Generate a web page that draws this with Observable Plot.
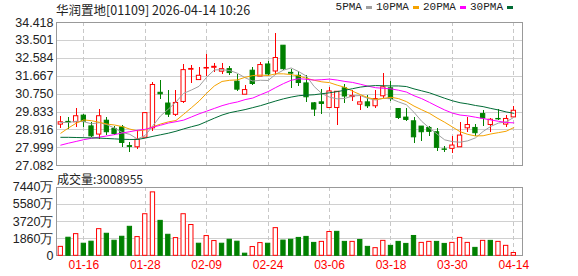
<!DOCTYPE html>
<html>
<head>
<meta charset="utf-8">
<script src="https://cdn.jsdelivr.net/npm/d3@7"></script>
<script src="https://cdn.jsdelivr.net/npm/@observablehq/plot@0.6"></script>
<style>
  html, body { margin: 0; padding: 0; background: #fff; }
  #wrap { position: relative; width: 578px; height: 276px; overflow: hidden; background: #fff; }
  #wrap svg { position: absolute; left: 0; }
  .title { position: absolute; left: 56px; top: 0px; font: 12.5px "Noto Sans CJK SC", sans-serif; color: #222; white-space: nowrap; }
  .vollabel { position: absolute; left: 57px; top: 170px; font: 12px "Noto Sans CJK SC", sans-serif; color: #222; white-space: nowrap; }
  .legend { position: absolute; right: 65px; top: 1px; display: flex; gap: 4px; font: 11px "Liberation Mono", monospace; color: #222; white-space: nowrap; }
  .legend .item { display: flex; align-items: center; gap: 4px; }
  .legend .sw { display: inline-block; width: 6px; height: 3px; }
</style>
</head>
<body>
<div id="wrap"></div>
<script>
// ---- data ----
const opens  = [29.19,29.33,29.31,29.65,29.10,28.68,29.39,28.97,29.05,28.09,28.03,28.52,29.00,30.82,30.27,29.69,30.35,32.00,31.47,32.06,32.10,31.90,32.03,31.39,30.72,31.95,31.65,32.27,31.91,33.23,31.84,31.69,31.30,30.28,30.33,30.04,30.04,31.05,30.60,30.21,30.33,30.13,30.64,31.05,29.99,29.55,29.36,29.09,29.02,28.80,27.92,27.95,28.03,29.00,29.02,29.73,29.17,29.48,29.19,29.56];
const highs  = [29.60,29.55,30.04,29.73,29.31,29.94,29.53,29.09,29.17,28.29,28.88,29.80,31.34,31.47,30.96,30.96,32.29,32.24,32.12,32.77,32.34,32.34,32.15,31.78,31.18,32.12,32.37,32.43,33.86,33.23,32.00,31.91,31.69,30.30,31.01,31.10,30.87,31.22,30.96,30.62,30.70,30.96,31.81,31.42,30.00,29.99,29.56,29.09,29.09,28.97,28.08,28.58,29.31,29.56,29.19,29.90,29.51,29.94,29.65,30.11];
const lows   = [28.97,28.96,29.02,29.05,28.51,28.41,28.63,28.63,28.03,27.78,27.93,28.51,28.85,30.50,29.57,29.62,30.25,31.32,31.45,31.64,31.86,31.74,31.69,30.88,30.72,31.18,31.64,31.64,31.69,31.95,31.05,31.13,30.33,29.60,29.73,29.99,29.17,30.25,30.37,29.90,30.04,30.04,30.55,30.38,29.43,29.36,28.24,28.34,28.58,27.83,27.74,27.73,28.03,28.80,28.58,29.09,28.80,29.40,29.05,29.53];
const closes = [29.31,29.30,29.62,29.34,28.59,29.62,28.80,28.71,28.25,28.05,28.42,29.78,31.22,30.74,29.70,30.30,31.98,32.04,31.69,32.09,32.15,32.03,31.83,30.98,30.96,31.27,32.24,31.76,32.60,32.03,31.80,31.32,30.59,29.96,30.25,30.89,30.87,30.63,30.65,30.33,30.13,30.50,31.10,30.50,29.53,29.43,28.54,28.80,28.82,28.00,27.90,28.12,28.63,29.17,28.75,29.51,29.44,29.46,29.48,29.90];
// volume in 万
const volumes = [970,1960,2350,1310,1530,2890,2390,1635,2065,3145,2030,4510,6880,3790,2280,1920,4510,3340,1310,2140,1600,1310,1740,1530,230,950,1380,1310,3000,1650,1740,1940,2050,1400,1510,2580,2600,1510,1510,1720,970,830,1620,1080,1510,1290,2150,1400,1510,1510,1290,1400,1940,1400,860,1620,1620,1510,1080,301];

const ma5  = [29.30,29.30,29.36,29.34,29.23,29.29,29.19,29.01,28.79,28.69,28.45,28.64,29.14,29.64,29.98,30.35,30.79,30.96,31.15,31.62,31.99,32.00,31.96,31.82,31.59,31.42,31.46,31.45,31.77,31.98,32.09,31.90,31.67,31.14,30.78,30.60,30.51,30.53,30.66,30.68,30.53,30.45,30.54,30.51,30.35,30.21,29.82,29.36,29.02,28.71,28.41,28.32,28.29,28.36,28.51,28.84,29.10,29.27,29.33,29.56];
const ma10 = [28.75,29.02,29.26,29.43,29.39,29.31,29.22,29.17,29.09,28.96,28.87,28.92,29.08,29.22,29.33,29.40,29.72,30.05,30.39,30.80,31.17,31.40,31.46,31.48,31.61,31.70,31.73,31.70,31.79,31.79,31.75,31.68,31.56,31.46,31.38,31.34,31.21,31.10,30.90,30.73,30.57,30.48,30.53,30.59,30.52,30.37,30.14,29.95,29.77,29.53,29.31,29.07,28.83,28.69,28.61,28.62,28.71,28.78,28.85,29.04];
const ma20 = [28.14,28.24,28.33,28.42,28.49,28.55,28.61,28.68,28.76,28.83,28.90,28.95,29.06,29.16,29.27,29.34,29.42,29.58,29.74,29.88,30.02,30.16,30.27,30.35,30.47,30.55,30.72,30.88,31.09,31.29,31.46,31.54,31.51,31.47,31.49,31.52,31.47,31.40,31.35,31.26,31.16,31.08,31.05,31.02,30.95,30.86,30.67,30.52,30.33,30.13,29.94,29.78,29.68,29.64,29.57,29.50,29.43,29.36,29.30,29.28];
const ma30 = [28.54,28.54,28.53,28.52,28.51,28.50,28.48,28.46,28.44,28.43,28.43,28.50,28.59,28.67,28.75,28.85,28.97,29.08,29.18,29.35,29.52,29.68,29.80,29.88,29.96,30.06,30.16,30.28,30.40,30.51,30.60,30.67,30.70,30.72,30.77,30.82,30.88,30.95,31.03,31.11,31.16,31.19,31.18,31.17,31.17,31.14,31.02,30.92,30.82,30.68,30.54,30.41,30.31,30.25,30.17,30.11,30.02,29.94,29.84,29.77];

const priceTicks = [27.082,27.999,28.916,29.833,30.750,31.667,32.584,33.501,34.418];
const volTicks = [0,1860,3720,5580,7440];
const dateTickIdx = [3,11,19,27,35,43,51,59];
const dateTickLabels = ["01-16","01-28","02-09","02-24","03-06","03-18","03-30","04-14"];
const maNames = ["5PMA","10PMA","20PMA","30PMA"];
const maColors = ["#a0a0a0","#f5a300","#ff00ff","#006b35"];
const titleText = "华润置地[01109] 2026-04-14 10:26";
const volText = "成交量:3008955";

const RED = "#ff0000", GREEN = "#008000";

const candles = closes.map((c, i) => ({
  i, o: opens[i], h: highs[i], l: lows[i], c, v: volumes[i],
  up: c >= opens[i],
  vup: i === 0 ? c >= opens[i] : c > closes[i - 1]
}));
const maSeries = [ma5, ma10, ma20, ma30];
const dateLabelMap = new Map(dateTickIdx.map((d, k) => [d, dateTickLabels[k]]));
const xDomain = [-0.56, 60.13];
const hw = 0.28;

const wrap = document.getElementById("wrap");

const price = Plot.plot({
  width: 578, height: 170,
  marginLeft: 56, marginRight: 56, marginTop: 22, marginBottom: 4.7,
  style: {fontFamily: "'Liberation Sans', Arial, sans-serif", fontSize: "12.5px", background: "transparent", overflow: "visible"},
  x: {domain: xDomain, axis: null},
  y: {domain: [27.082, 34.418], axis: null},
  color: {type: "identity"},
  marks: [
    Plot.ruleY(priceTicks, {stroke: "#d0d0d0", shapeRendering: "crispEdges"}),
    Plot.ruleX(dateTickIdx, {stroke: "#c8c8c8", strokeDasharray: "4,3", shapeRendering: "crispEdges"}),
    Plot.frame({stroke: "#999", shapeRendering: "crispEdges"}),
    Plot.axisY(priceTicks, {tickSize: 0, tickPadding: 3, tickFormat: d => d.toFixed(3), fill: "#222", label: null}),
    Plot.ruleX(candles, {x: "i", y1: "l", y2: "h", stroke: d => d.up ? RED : GREEN, shapeRendering: "crispEdges"}),
    Plot.rect(candles, {
      x1: d => d.i - hw, x2: d => d.i + hw, y1: "o", y2: "c",
      fill: d => d.up ? "#ffffff" : GREEN, stroke: d => d.up ? RED : GREEN, strokeWidth: 1
    }),
    ...maSeries.map((s, k) => Plot.lineY(s, {x: (d, i) => i, y: d => d, stroke: maColors[k], strokeWidth: 1}))
  ]
});
price.style.top = "0px";
wrap.appendChild(price);

const vol = Plot.plot({
  width: 578, height: 106,
  marginLeft: 56, marginRight: 56, marginTop: 16.7, marginBottom: 20.7,
  style: {fontFamily: "'Liberation Sans', Arial, sans-serif", fontSize: "12.5px", background: "transparent", overflow: "visible"},
  x: {domain: xDomain, label: null},
  y: {domain: [0, 7440], label: null},
  color: {type: "identity"},
  marks: [
    Plot.ruleY(volTicks, {stroke: "#d0d0d0", shapeRendering: "crispEdges"}),
    Plot.ruleX(dateTickIdx, {stroke: "#c8c8c8", strokeDasharray: "4,3", shapeRendering: "crispEdges"}),
    Plot.frame({stroke: "#999", shapeRendering: "crispEdges"}),
    Plot.axisY(volTicks, {tickSize: 0, tickPadding: 3, tickFormat: d => d === 0 ? "0" : d + "万", fill: "#222", label: null}),
    Plot.axisX(dateTickIdx, {tickSize: 0, tickPadding: 5, tickFormat: d => dateLabelMap.get(d), fill: RED, fontSize: 12, label: null}),
    Plot.rect(candles, {
      x1: d => d.i - hw, x2: d => d.i + hw, y1: d => 0, y2: "v",
      fill: d => d.vup ? "#ffffff" : GREEN, stroke: d => d.vup ? RED : GREEN, strokeWidth: 1
    })
  ]
});
vol.style.top = "170px";
wrap.appendChild(vol);

const t = document.createElement("div");
t.className = "title"; t.textContent = titleText; wrap.appendChild(t);
const vl = document.createElement("div");
vl.className = "vollabel"; vl.textContent = volText; wrap.appendChild(vl);
const lg = document.createElement("div");
lg.className = "legend";
maNames.forEach((n, k) => {
  const it = document.createElement("span"); it.className = "item";
  const tx = document.createElement("span"); tx.textContent = n;
  const sw = document.createElement("span"); sw.className = "sw"; sw.style.background = maColors[k];
  it.appendChild(tx); it.appendChild(sw); lg.appendChild(it);
});
wrap.appendChild(lg);
</script>
</body>
</html>
